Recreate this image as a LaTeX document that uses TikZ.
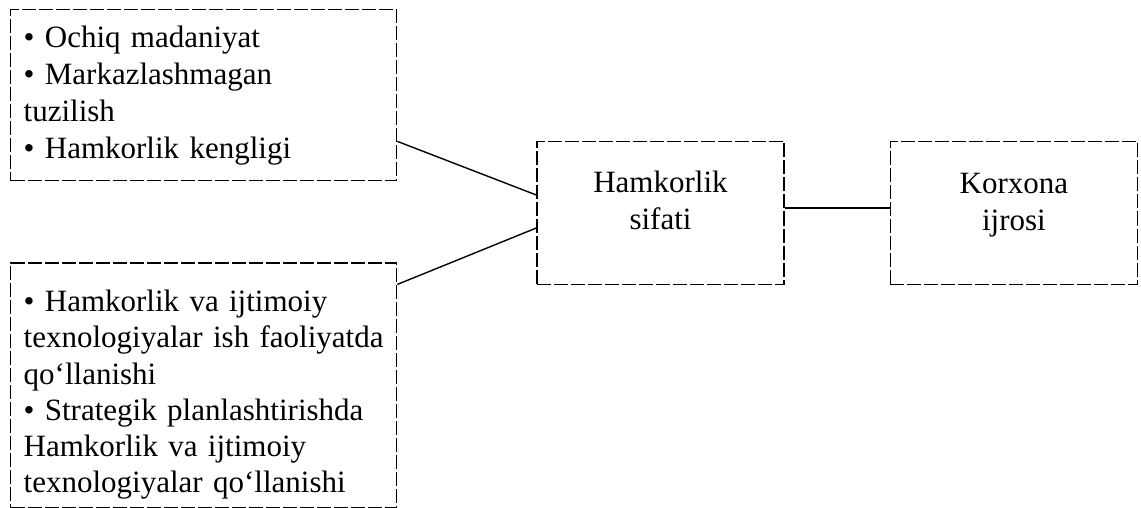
\documentclass[tikz,border=0pt]{standalone}
\usepackage{fontspec}
\setmainfont{Liberation Serif}
\usetikzlibrary{positioning}

\begin{document}
\begin{tikzpicture}[
  x=0.5pt,y=-0.5pt,
  box/.style={draw,dash pattern=on 7pt off 1.5pt,line width=0.7pt,inner xsep=6.5pt,
    font=\fontsize{15.5}{18.5}\selectfont},
  lst/.style={box,text width=180pt,align=left},
  mid/.style={box,minimum width=123.5pt,minimum height=71.5pt,align=center},
  a/.style={line width=0.7pt}
]
  \useasboundingbox (0,0) rectangle (1141,508);
  \node[lst,anchor=north west,minimum height=85.5pt] (omil) at (10,9)
    {• Ochiq madaniyat\\• Markazlashmagan\\tuzilish\\• Hamkorlik kengligi};
  \node[lst,below=40.5pt of omil.south west,anchor=north west,minimum height=122.5pt,
    font=\fontsize{15.5}{18.1}\selectfont,
    inner ysep=2pt,text height=22pt,text depth=96pt] (texno)
    {• Hamkorlik va ijtimoiy\\texnologiyalar ish faoliyatda\\qo‘llanishi\\
     • Strategik planlashtirishda\\Hamkorlik va ijtimoiy\\texnologiyalar qo‘llanishi};
  \node[mid,text depth=13pt] (sifat) at (660.5,213) {Hamkorlik\\sifati};
  \node[mid,right=52.5pt of sifat,text depth=10.9pt] (ijro) {Korxona\\ijrosi};
  \coordinate (m) at ([yshift=2.5pt]sifat.east);
  \draw[a] ([yshift=20pt]omil.south east) -- ([yshift=9pt]sifat.west);
  \draw[a] ([yshift=-11pt]texno.north east) -- ([yshift=-7.5pt]sifat.west);
  \draw[a] (m) -- (m -| ijro.west);
\end{tikzpicture}
\end{document}
